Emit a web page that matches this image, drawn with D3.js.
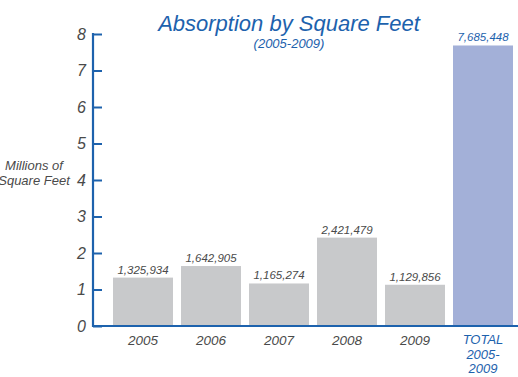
<!DOCTYPE html>
<html>
<head>
<meta charset="utf-8">
<script src="https://cdn.jsdelivr.net/npm/d3@7"></script>
<style>
  body { margin: 0; background: #fff; }
  svg text { font-family: "Liberation Sans", Arial, sans-serif; font-style: italic; }
</style>
</head>
<body>
<svg id="chart" width="518" height="377"></svg>
<script>
// data
var categories = ["2005", "2006", "2007", "2008", "2009", "TOTAL"];
var values = [1325934, 1642905, 1165274, 2421479, 1129856, 7685448];
var valueLabels = ["1,325,934", "1,642,905", "1,165,274", "2,421,479", "1,129,856", "7,685,448"];
var yTicks = [0, 1, 2, 3, 4, 5, 6, 7, 8];
var totalLabel = ["TOTAL", "2005-", "2009"];

var blue = "#1d62ad";
var grey = "#c8c9cb";
var totalFill = "#a3b0d8";
var textGrey = "#4a4a4a";

var svg = d3.select("#chart");

var x = d3.scaleBand()
    .domain(categories)
    .range([109, 517])
    .paddingInner(8 / 68)
    .paddingOuter(4 / 68);

var y = d3.scaleLinear()
    .domain([0, 8])
    .range([326, 34]);

// bars
svg.selectAll("rect.bar")
    .data(values)
    .enter().append("rect")
    .attr("class", "bar")
    .attr("x", function(d, i){ return x(categories[i]); })
    .attr("width", x.bandwidth())
    .attr("y", function(d){ return y(d / 1e6); })
    .attr("height", function(d){ return y(0) - y(d / 1e6); })
    .attr("fill", function(d, i){ return categories[i] == "TOTAL" ? totalFill : grey; });

// value labels
svg.selectAll("text.val")
    .data(values)
    .enter().append("text")
    .attr("class", "val")
    .attr("x", function(d, i){ return x(categories[i]) + x.bandwidth() / 2; })
    .attr("y", function(d){ return y(d / 1e6) - 4; })
    .attr("text-anchor", "middle")
    .attr("font-size", 11.5)
    .attr("fill", function(d, i){ return categories[i] == "TOTAL" ? blue : textGrey; })
    .text(function(d, i){ return valueLabels[i]; });

// y axis
var yAxis = d3.axisRight(y)
    .tickValues(yTicks)
    .tickSize(9)
    .tickFormat("");
var gy = svg.append("g")
    .attr("transform", "translate(93,0)")
    .call(yAxis);
gy.select(".domain").remove();
gy.selectAll(".tick line").attr("stroke", blue).attr("stroke-width", 2);

svg.append("line")
    .attr("x1", 93).attr("x2", 93)
    .attr("y1", y(8) - 1).attr("y2", y(0) + 1)
    .attr("stroke", blue).attr("stroke-width", 2.2);

svg.selectAll("text.ytick")
    .data(yTicks)
    .enter().append("text")
    .attr("class", "ytick")
    .attr("x", 86)
    .attr("y", function(d){ return y(d) + 5.5; })
    .attr("text-anchor", "end")
    .attr("font-size", 16)
    .attr("fill", textGrey)
    .text(function(d){ return d; });

// x baseline
svg.append("line")
    .attr("x1", 92).attr("x2", 518)
    .attr("y1", y(0)).attr("y2", y(0))
    .attr("stroke", blue).attr("stroke-width", 2);

// x labels
categories.forEach(function(c){
    var cx = x(c) + x.bandwidth() / 2;
    if (c == "TOTAL") {
        totalLabel.forEach(function(t, j){
            svg.append("text")
                .attr("x", cx).attr("y", 344 + j * 14.5)
                .attr("text-anchor", "middle")
                .attr("font-size", 13)
                .attr("fill", blue)
                .text(t);
        });
    } else {
        svg.append("text")
            .attr("x", cx).attr("y", 345)
            .attr("text-anchor", "middle")
            .attr("font-size", 13.5)
            .attr("fill", textGrey)
            .text(c);
    }
});

// axis title
svg.append("text")
    .attr("x", 34).attr("y", 170)
    .attr("text-anchor", "middle")
    .attr("font-size", 13)
    .attr("fill", textGrey)
    .text("Millions of");
svg.append("text")
    .attr("x", 34).attr("y", 185)
    .attr("text-anchor", "middle")
    .attr("font-size", 13)
    .attr("fill", textGrey)
    .text("Square Feet");

// titles
svg.append("text")
    .attr("x", 289).attr("y", 31)
    .attr("text-anchor", "middle")
    .attr("font-size", 22)
    .attr("fill", blue)
    .text("Absorption by Square Feet");
svg.append("text")
    .attr("x", 289).attr("y", 48)
    .attr("text-anchor", "middle")
    .attr("font-size", 13)
    .attr("fill", blue)
    .text("(2005-2009)");
</script>
</body>
</html>
